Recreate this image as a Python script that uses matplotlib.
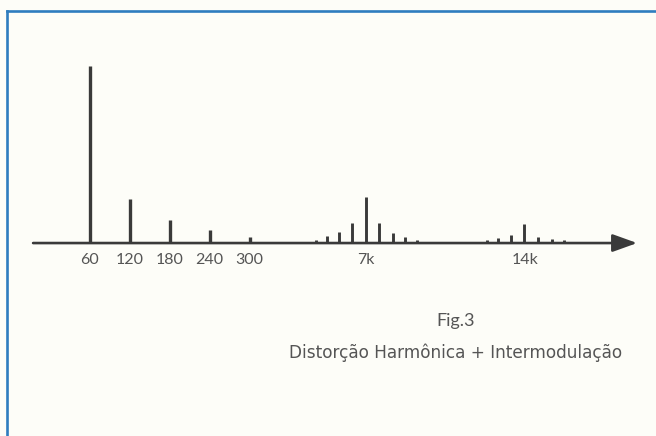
import matplotlib
matplotlib.use('Agg')
import matplotlib.pyplot as plt
from matplotlib.lines import Line2D

# positions on the schematic frequency axis (1 unit = one 60 Hz harmonic step)
harm_x = [1, 2, 3, 4, 5]
harm_h = [100, 25, 13, 7.3, 3.4]

im7_x = [6.66, 6.94, 7.24, 7.56, 7.91, 8.24, 8.59, 8.89, 9.19]
im7_h = [1.7, 4.0, 6.2, 11.3, 26.0, 11.3, 5.6, 3.4, 1.7]

im14_x = [10.64, 10.94, 11.21, 11.54, 11.86, 12.21, 12.56, 12.86, 13.16]
im14_h = [0.8, 1.7, 2.8, 4.5, 10.7, 3.4, 2.3, 1.7, 0.8]

tick_pos = [1, 2, 3, 4, 5, 7.91, 11.88]
tick_lab = ['60', '120', '180', '240', '300', '7k', '14k']

bg = '#fdfdf8'
ink = '#3a3a3a'
txt = '#555555'

fig = plt.figure(figsize=(6.56, 4.36), dpi=100, facecolor=bg)
ax = fig.add_axes([0, 0, 1, 1])
ax.set_facecolor(bg)
ax.set_xlim(-1.2375, 15.1625)
ax.set_ylim(-109.0, 137.3)
ax.axis('off')

# axis with arrow
ax.annotate('', xy=(14.69, 0), xytext=(-0.41, 0),
            arrowprops=dict(arrowstyle='-|>,head_length=0.75,head_width=0.27',
                            lw=1.9, color=ink, shrinkA=0, shrinkB=0,
                            mutation_scale=20))

ax.vlines(harm_x, 0, harm_h, color=ink, lw=2.4, capstyle='butt')
ax.vlines(im7_x, 0, im7_h, color=ink, lw=2.1, capstyle='butt')
ax.vlines(im14_x, 0, im14_h, color=ink, lw=2.1, capstyle='butt')

for p, l in zip(tick_pos, tick_lab):
    ax.text(p, -9.8, l, ha='center', va='center', fontsize=11.5,
            family='Lato', color=txt)

ax.text(10.16, -44.0, 'Fig.3', ha='center', va='center', fontsize=13,
        family='Lato', color=txt)
ax.text(10.14, -62.0, 'Distorção Harmônica + Intermodulação', ha='center',
        va='center', fontsize=12.2, family='DejaVu Sans', color=txt)

# blue frame (top and left edges)
fig.add_artist(Line2D([6.5 / 656, 1], [1 - 11.5 / 436, 1 - 11.5 / 436],
                      transform=fig.transFigure, color='#2f7dbf', lw=1.9))
fig.add_artist(Line2D([6.5 / 656, 6.5 / 656], [0, 1 - 11.5 / 436],
                      transform=fig.transFigure, color='#2f7dbf', lw=1.9))

fig.savefig('out.png', dpi=100, facecolor=bg)
